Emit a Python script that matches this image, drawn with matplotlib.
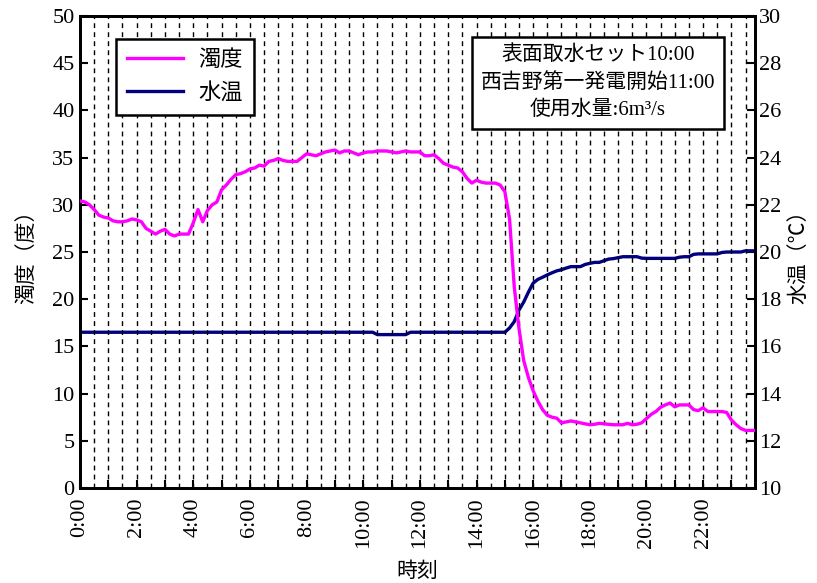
import numpy as np
import matplotlib
matplotlib.use("Agg")
import matplotlib.pyplot as plt

plt.rcParams['font.family'] = ['Liberation Serif', 'Noto Sans CJK JP', 'DejaVu Sans']

# --- data (10-minute readings, 0:00 - 23:50) ---
minutes = np.arange(0, 1440, 10)
hours = minutes / 60.0

turbidity = [
    30.4, 30.3, 30.0, 29.5, 28.9, 28.7,
    28.6, 28.3, 28.2, 28.2, 28.3, 28.5,
    28.4, 28.2, 27.5, 27.2, 26.9, 27.2,
    27.4, 26.9, 26.7, 26.9, 26.9, 26.9,
    28.1, 29.5, 28.2, 29.4, 30.0, 30.3,
    31.6, 32.1, 32.7, 33.2, 33.3, 33.5,
    33.8, 33.9, 34.2, 34.1, 34.6, 34.7,
    34.9, 34.7, 34.6, 34.6, 34.6, 35.0,
    35.4, 35.3, 35.2, 35.4, 35.6, 35.7,
    35.8, 35.5, 35.7, 35.7, 35.5, 35.3,
    35.5, 35.6, 35.6, 35.7, 35.7, 35.7,
    35.6, 35.5, 35.6, 35.7, 35.6, 35.6,
    35.6, 35.2, 35.2, 35.3, 34.9, 34.4,
    34.2, 34.0, 33.9, 33.5, 32.8, 32.3,
    32.6, 32.4, 32.3, 32.3, 32.3, 32.1,
    31.4, 28.5, 21.3, 16.9, 13.5, 11.7,
    10.3, 9.2, 8.3, 7.7, 7.5, 7.4,
    6.9, 7.0, 7.1, 7.0, 6.9, 6.8,
    6.7, 6.75, 6.85, 6.8, 6.75, 6.7,
    6.7, 6.7, 6.85, 6.7, 6.75, 6.9,
    7.35, 7.8, 8.1, 8.55, 8.8, 9.0,
    8.6, 8.8, 8.8, 8.8, 8.3, 8.2,
    8.5, 8.1, 8.1, 8.1, 8.1, 8.0,
    7.2, 6.7, 6.3, 6.1, 6.1, 6.1,
]

water_temp = [
    16.6, 16.6, 16.6, 16.6, 16.6, 16.6,
    16.6, 16.6, 16.6, 16.6, 16.6, 16.6,
    16.6, 16.6, 16.6, 16.6, 16.6, 16.6,
    16.6, 16.6, 16.6, 16.6, 16.6, 16.6,
    16.6, 16.6, 16.6, 16.6, 16.6, 16.6,
    16.6, 16.6, 16.6, 16.6, 16.6, 16.6,
    16.6, 16.6, 16.6, 16.6, 16.6, 16.6,
    16.6, 16.6, 16.6, 16.6, 16.6, 16.6,
    16.6, 16.6, 16.6, 16.6, 16.6, 16.6,
    16.6, 16.6, 16.6, 16.6, 16.6, 16.6,
    16.6, 16.6, 16.6, 16.5, 16.5, 16.5,
    16.5, 16.5, 16.5, 16.5, 16.6, 16.6,
    16.6, 16.6, 16.6, 16.6, 16.6, 16.6,
    16.6, 16.6, 16.6, 16.6, 16.6, 16.6,
    16.6, 16.6, 16.6, 16.6, 16.6, 16.6,
    16.6, 16.78, 17.05, 17.54, 17.88, 18.3,
    18.68, 18.84, 18.93, 19.03, 19.12, 19.2,
    19.25, 19.32, 19.38, 19.38, 19.38, 19.47,
    19.52, 19.56, 19.56, 19.63, 19.7, 19.72,
    19.76, 19.8, 19.8, 19.8, 19.8, 19.74,
    19.73, 19.73, 19.73, 19.73, 19.73, 19.73,
    19.73, 19.78, 19.8, 19.8, 19.9, 19.92,
    19.92, 19.92, 19.92, 19.92, 19.98, 20.0,
    20.0, 20.0, 20.0, 20.05, 20.05, 20.05,
]

x_tick_hours = [0, 2, 4, 6, 8, 10, 12, 14, 16, 18, 20, 22]
x_tick_labels = ["0:00", "2:00", "4:00", "6:00", "8:00", "10:00",
                 "12:00", "14:00", "16:00", "18:00", "20:00", "22:00"]
left_ticks = [0, 5, 10, 15, 20, 25, 30, 35, 40, 45, 50]
right_ticks = [10, 12, 14, 16, 18, 20, 22, 24, 26, 28, 30]

series_names = ["濁度", "水温"]
note_lines = ["表面取水セット10:00", "西吉野第一発電開始11:00", "使用水量:6m³/s"]

# --- figure ---
fig = plt.figure(figsize=(8.17, 5.83), dpi=100)
ax = fig.add_axes([80/817, 1 - 488/583, 675/817, 472/583])
ax2 = ax.twinx()

# dashed half-hour gridlines
for g in np.arange(0.5, 23.9, 0.5):
    ax.axvline(g, color='black', linewidth=1.0, linestyle=(0, (3.5, 3)), zorder=1)

l1, = ax.plot(hours, turbidity, color='#FF00FF', linewidth=2.4, zorder=3)
l2, = ax2.plot(hours, water_temp, color='#000080', linewidth=2.4, zorder=3)

ax.set_xlim(0, hours[-1])
ax.set_ylim(0, 50)
ax2.set_ylim(10, 30)

ax.set_xticks(np.arange(0, 24, 1))
ax.set_xticklabels([(x_tick_labels[x_tick_hours.index(h)] if h in x_tick_hours else "")
                    for h in range(24)], rotation=90, fontsize=16)
ax.set_yticks(left_ticks)
ax.set_yticklabels([str(v) for v in left_ticks], fontsize=16)
ax2.set_yticks(right_ticks)
ax2.set_yticklabels([str(v) for v in right_ticks], fontsize=16)

ax.tick_params(axis='x', direction='in', length=6, width=1.5, pad=7)
ax.tick_params(axis='y', direction='in', length=6, width=1.5, pad=4)
ax2.tick_params(axis='y', direction='in', length=6, width=1.5, pad=3)

for a in (ax, ax2):
    for s in a.spines.values():
        s.set_linewidth(2.0)

ax.set_xlabel("時刻", fontsize=15, labelpad=10)
ax.set_ylabel("濁度（度）", fontsize=15, labelpad=11)
ax2.set_ylabel("水温（℃）", fontsize=15, labelpad=6)

ax.set_zorder(ax2.get_zorder() + 1)
ax.patch.set_visible(False)

leg = ax.legend([l1, l2], series_names, loc='upper left',
                bbox_to_anchor=(36/675, 1 - 23/472), borderaxespad=0, fontsize=16,
                frameon=True, fancybox=False, edgecolor='black', framealpha=1,
                handlelength=2.5, handletextpad=0.7, borderpad=0.5, labelspacing=0.55)
leg.get_frame().set_linewidth(1.8)
leg.set_zorder(10)

ax.text((598 - 80)/675, 1 - 29/472, "\n".join(note_lines), transform=ax.transAxes,
        ha='center', va='top', fontsize=15, linespacing=1.55, zorder=10,
        bbox=dict(boxstyle='square,pad=0.4', facecolor='white', edgecolor='black', linewidth=1.8))

fig.savefig("out.png", dpi=100)
